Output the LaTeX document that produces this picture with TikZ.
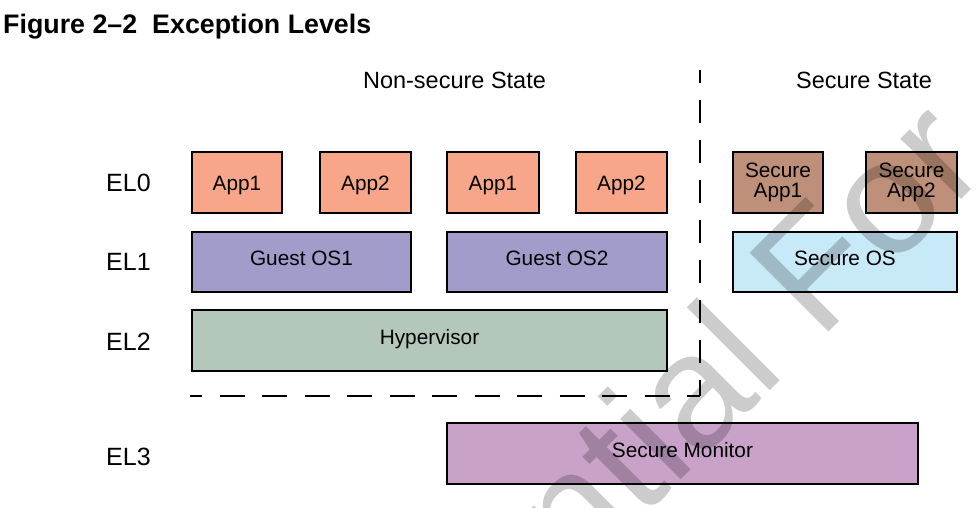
\documentclass[tikz,border=0pt]{standalone}
\usepackage{fontspec}
\setmainfont{Liberation Sans}
\definecolor{appc}{RGB}{247,166,137}
\definecolor{sappc}{RGB}{191,144,121}
\definecolor{gosc}{RGB}{162,156,203}
\definecolor{sosc}{RGB}{199,233,248}
\definecolor{hypc}{RGB}{179,199,186}
\definecolor{smonc}{RGB}{201,162,202}
\newcommand\myboxfont{\fontsize{20.8}{20}\selectfont}
\newcommand\mylabfont{\fontsize{25}{28}\selectfont}
\newcommand\myheadfont{\fontsize{23.5}{26}\selectfont}
\begin{document}
\begin{tikzpicture}[x=1pt,y=-1pt,
  box/.style={draw=black, line width=2pt, inner sep=0pt, anchor=north west, font=\myboxfont},
  smallbox/.style={box, minimum height=61pt, text height=15pt, text depth=0pt},
  twobox/.style={box, minimum height=61pt, align=center},
  widebox/.style={box, text height=15pt, text depth=8pt},
  lab/.style={anchor=base west, inner sep=0pt, font=\mylabfont},
  head/.style={anchor=base, inner sep=0pt, font=\myheadfont},
  sepline/.style={line width=2.5pt}
]
\useasboundingbox (0,0) rectangle (978,507);

% title
\node[anchor=base west, inner sep=0pt, font=\bfseries\fontsize{26.8}{30}\selectfont] (title) at (3,33.3) {Figure 2--2\hspace{15pt}Exception Levels};

% state headings
\node[head] (ns) at (454.5,88) {Non-secure State};
\node[head] (ss) at (864,88) {Secure State};

% level labels
\node[lab] (el0) at (106,191.5) {EL0};
\node[lab] (el1) at (106,270.5) {EL1};
\node[lab] (el2) at (106,350) {EL2};
\node[lab] (el3) at (106,465) {EL3};

% EL0
\node[smallbox, fill=appc, minimum width=90pt] (a1) at (191,151) {App1};
\node[smallbox, fill=appc, minimum width=91pt] (a2) at (319,151) {App2};
\node[smallbox, fill=appc, minimum width=92pt] (a3) at (446,151) {App1};
\node[smallbox, fill=appc, minimum width=91pt] (a4) at (575,151) {App2};
\node[twobox, fill=sappc, minimum width=90pt] (sa1) at (732,151) {Secure\\App1};
\node[twobox, fill=sappc, minimum width=91pt] (sa2) at (865,151) {Secure\\App2};

% EL1
\node[widebox, fill=gosc, minimum width=219pt, minimum height=60pt] (g1) at (191,231) {Guest OS1};
\node[widebox, fill=gosc, minimum width=220pt, minimum height=60pt] (g2) at (446,231) {Guest OS2};
\node[widebox, fill=sosc, minimum width=224pt, minimum height=60pt] (sos) at (732,231) {Secure OS};

% EL2
\node[widebox, fill=hypc, minimum width=475pt, minimum height=61pt] (hyp) at (191,309) {Hypervisor};

% EL3
\node[widebox, fill=smonc, minimum width=471pt, minimum height=61pt] (smon) at (446,422) {Secure Monitor};

% separator
\coordinate (ctop) at (700,70);
\coordinate (ccorner) at (700,396);
\coordinate (cleft) at (190,396);
\draw[sepline, dash pattern=on 25pt off 17.5pt, dash phase=13pt] (cleft) -- (ccorner);
\draw[sepline, dash pattern=on 23pt off 17pt, dash phase=7pt] (ccorner) -- (ctop);

% watermark
\begin{scope}
\clip (0,0) rectangle (978,507);
\node[anchor=base west, inner sep=0pt, rotate=45, text=black, opacity=0.2,
  font=\fontsize{162}{162}\selectfont] (wm) at (183,978) {Confidential For};
\end{scope}
\end{tikzpicture}
\end{document}
